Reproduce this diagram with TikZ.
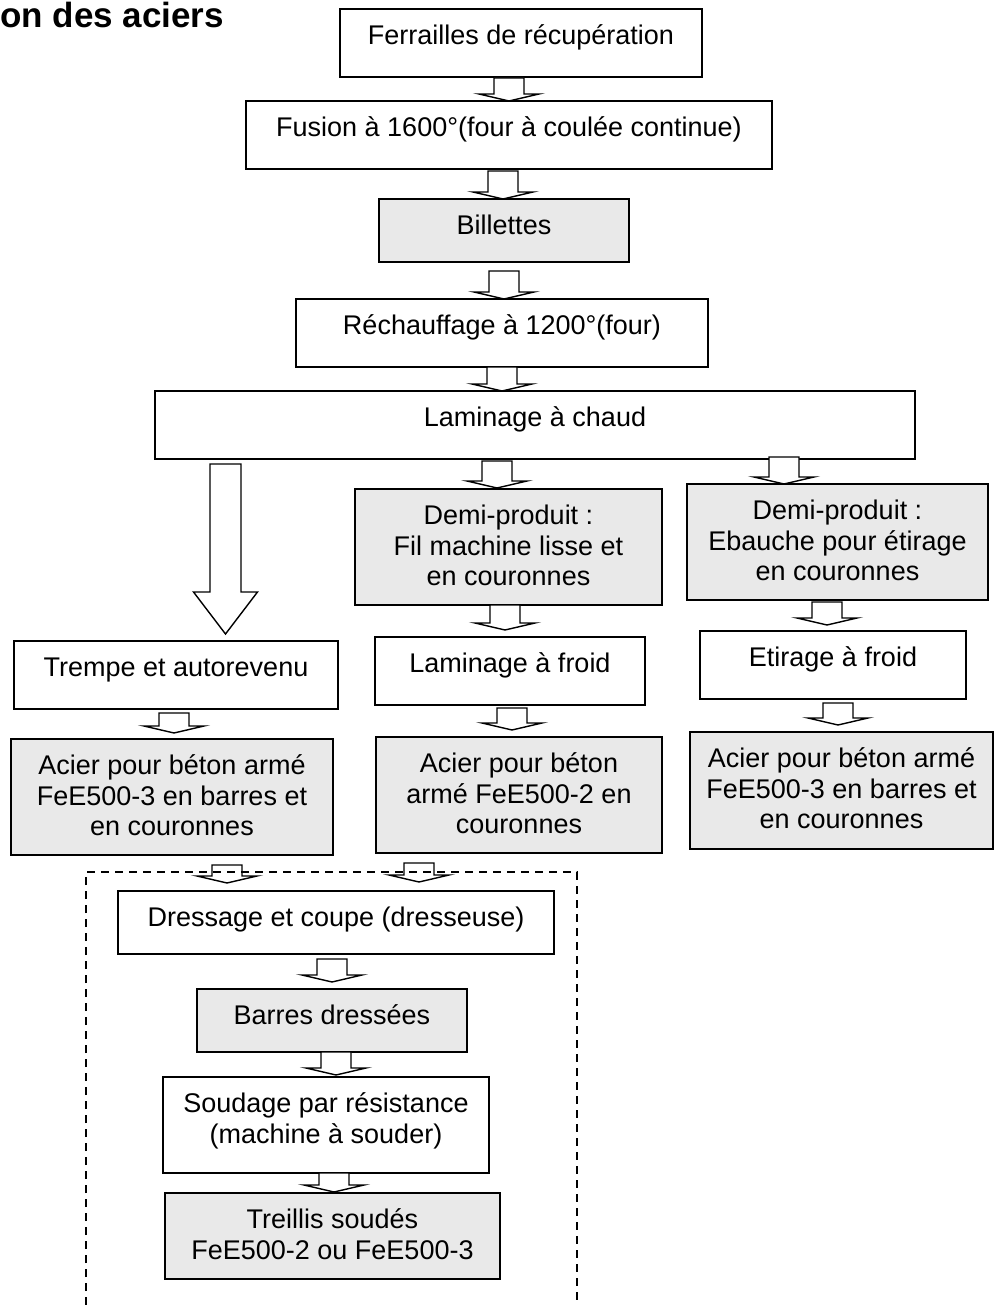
\documentclass[tikz,border=0pt]{standalone}
\usepackage{fontspec}
\setmainfont{Liberation Sans}
\usetikzlibrary{calc}
\definecolor{boxgray}{RGB}{233,233,233}
\tikzset{
  box/.style={draw=black, line width=1.5pt, rectangle, inner sep=0pt, outer sep=0pt, fill=white},
  graybox/.style={box, fill=boxgray},
  lbl/.style={inner sep=0pt, outer sep=0pt, align=center, anchor=north, font=\fontsize{27}{30.5}\selectfont},
  flowarrow/.style={draw=black, line width=1.4pt, fill=white, line join=miter},
  frame/.style={draw=black, line width=1.3pt, dash pattern=on 8pt off 6pt},
}
\newcommand\bx[7]{%
  \node[#6, minimum width={(#4-#2)*1pt}, minimum height={(#5-#3)*1pt}] (#1) at ({(#2+#4)/2},{(#3+#5)/2}) {};
  \node[lbl] (#1-t) at ($(#1.north)+(0,14.5)$) {\strut #7};
}
\newcommand\flow[5]{%
  \coordinate (fx) at (#3,0);
  \coordinate (ft) at ($(#1.south -| fx)+(0,#4)$);
  \coordinate (fp) at ($(#2.north -| fx)+(0,#5)$);
  \draw[flowarrow] ($(ft)+(-15,0)$) -- ($(ft)+(15,0)$) -- ($(fp)+(15,-7)$) -- ($(fp)+(30,-7)$) -- (fp) -- ($(fp)+(-30,-7)$) -- ($(fp)+(-15,-7)$) -- cycle;
}
\begin{document}
\begin{tikzpicture}[x=1pt, y=-1pt]
\useasboundingbox (0,0) rectangle (994,1305);
\fill[white] (0,0) rectangle (994,1305);
\node[anchor=base west, inner sep=0pt, font=\bfseries\fontsize{35}{35}\selectfont] (title) at (0,28) {on des aciers};
\bx{b1}{340}{9}{702}{77}{box}{Ferrailles de récupération}
\bx{b2}{246}{101}{772}{169}{box}{Fusion à 1600°(four à coulée continue)}
\bx{b3}{379}{199}{629}{262}{graybox}{Billettes}
\bx{b4}{296}{299}{708}{367}{box}{Réchauffage à 1200°(four)}
\bx{b5}{155}{391}{915}{459}{box}{Laminage à chaud}
\bx{b6}{355}{489}{662}{605}{graybox}{Demi-produit :\\Fil machine lisse et\\en couronnes}
\bx{b7}{687}{484}{988}{600}{graybox}{Demi-produit :\\Ebauche pour étirage\\en couronnes}
\bx{b8}{14}{641}{338}{709}{box}{Trempe et autorevenu}
\bx{b9}{375}{637}{645}{705}{box}{Laminage à froid}
\bx{b10}{700}{631}{966}{699}{box}{Etirage à froid}
\bx{b11}{11}{739}{333}{855}{graybox}{Acier pour béton armé\\FeE500-3 en barres et\\en couronnes}
\bx{b12}{376}{737}{662}{853}{graybox}{Acier pour béton\\armé FeE500-2 en\\couronnes}
\bx{b13}{690}{732}{993}{849}{graybox}{Acier pour béton armé\\FeE500-3 en barres et\\en couronnes}
\bx{b14}{118}{891}{554}{954}{box}{Dressage et coupe (dresseuse)}
\bx{b15}{197}{989}{467}{1052}{graybox}{Barres dressées}
\bx{b16}{163}{1077}{489}{1173}{box}{Soudage par résistance\\(machine à souder)}
\bx{b17}{165}{1193}{500}{1279}{graybox}{Treillis soudés\\FeE500-2 ou FeE500-3}
% connectors
\flow{b1}{b2}{509}{1}{0}
\flow{b2}{b3}{503}{2}{0}
\flow{b3}{b4}{504}{9}{0}
\flow{b4}{b5}{502}{0}{0}
\flow{b5}{b6}{497}{2}{-1}
\flow{b5}{b7}{784}{-2}{0}
\flow{b6}{b9}{505}{0}{-7}
\flow{b7}{b10}{827}{2}{-6}
\flow{b8}{b11}{174}{4}{-6}
\flow{b9}{b12}{512}{3}{-7}
\flow{b10}{b13}{838}{4}{-7}
\flow{b11}{b14}{227}{10}{-8}
\flow{b12}{b14}{419}{10}{-9}
\flow{b14}{b15}{332}{5}{-7}
\flow{b15}{b16}{336}{0}{-2}
\flow{b16}{b17}{334}{0}{-1}
% big arrow from Laminage a chaud to Trempe
\coordinate (bx) at (225.5,0);
\coordinate (bt) at ($(b5.south -| bx)+(0,5)$);
\coordinate (bp) at ($(b8.north -| bx)+(0,-7)$);
\draw[flowarrow] ($(bt)+(-15.5,0)$) -- ($(bt)+(15.5,0)$) -- ($(bp)+(15.5,-42)$) -- ($(bp)+(32,-42)$) -- (bp) -- ($(bp)+(-32,-42)$) -- ($(bp)+(-15.5,-42)$) -- cycle;
% dashed frame
\coordinate (f1) at (86,1305);
\coordinate (f2) at (86,872);
\coordinate (f3) at (577,872);
\coordinate (f4) at (577,1305);
\draw[frame] (f1) -- (f2) -- (f3) -- (f4);
\end{tikzpicture}
\end{document}
